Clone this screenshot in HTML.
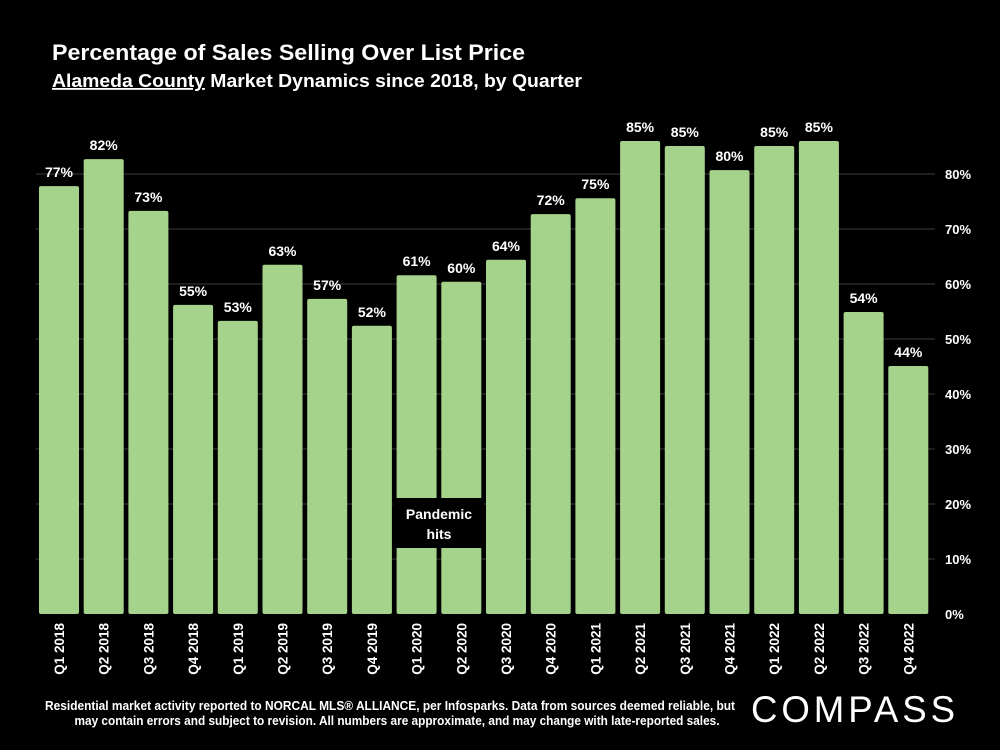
<!DOCTYPE html>
<html><head><meta charset="utf-8"><style>
html,body{margin:0;padding:0;background:#000;}
svg{display:block;font-family:"Liberation Sans",sans-serif;}
</style></head><body>
<svg id="chart" width="1000" height="750" viewBox="0 0 1000 750">
<rect x="0" y="0" width="1000" height="750" fill="#000"/>
<text x="52" y="60" fill="#fff" font-size="22" font-weight="bold" textLength="473" lengthAdjust="spacingAndGlyphs">Percentage of Sales Selling Over List Price</text>
<text x="52" y="87" fill="#fff" font-size="18" font-weight="bold" textLength="530" lengthAdjust="spacingAndGlyphs"><tspan text-decoration="underline">Alameda County</tspan> Market Dynamics since 2018, by Quarter</text>
<g id="grid"></g>
<g id="bars"></g>
<g id="ylabels"></g>
<g id="xlabels"></g>
<rect x="393" y="498" width="91" height="50" fill="#000"/>
<text x="439" y="519" fill="#fff" font-size="14" font-weight="bold" text-anchor="middle"><tspan x="439">Pandemic</tspan><tspan x="439" dy="20">hits</tspan></text>
<text x="390" y="710" fill="#fff" font-size="12.5" font-weight="bold" text-anchor="middle" textLength="690" lengthAdjust="spacingAndGlyphs">Residential market activity reported to NORCAL MLS® ALLIANCE, per Infosparks. Data from sources deemed reliable, but</text>
<text x="397" y="725" fill="#fff" font-size="12.5" font-weight="bold" text-anchor="middle" textLength="645" lengthAdjust="spacingAndGlyphs">may contain errors and subject to revision. All numbers are approximate, and may change with late-reported sales.</text>
<text x="855" y="722" fill="#fff" font-size="37" text-anchor="middle" textLength="208" lengthAdjust="spacingAndGlyphs" letter-spacing="4">COMPASS</text>
</svg>
<script>
const categories=["Q1 2018","Q2 2018","Q3 2018","Q4 2018","Q1 2019","Q2 2019","Q3 2019","Q4 2019","Q1 2020","Q2 2020","Q3 2020","Q4 2020","Q1 2021","Q2 2021","Q3 2021","Q4 2021","Q1 2022","Q2 2022","Q3 2022","Q4 2022"];
const values=[77.8,82.7,73.3,56.2,53.3,63.5,57.3,52.4,61.6,60.4,64.4,72.7,75.6,86,85.1,80.7,85.1,86,54.9,45.1];
const valueLabels=["77%","82%","73%","55%","53%","63%","57%","52%","61%","60%","64%","72%","75%","85%","85%","80%","85%","85%","54%","44%"];
const yTicks=[0,10,20,30,40,50,60,70,80];
const yTickLabels=["0%","10%","20%","30%","40%","50%","60%","70%","80%"];
const NS="http://www.w3.org/2000/svg";
const y0=614, pxPer=5.5, x0=39, pitch=44.7, bw=40;
function yS(v){return y0-v*pxPer;}
function xS(i){return x0+i*pitch;}
function mk(tag,attrs,parent){const e=document.createElementNS(NS,tag);for(const k in attrs)e.setAttribute(k,attrs[k]);parent.appendChild(e);return e;}
const grid=document.getElementById('grid'),bars=document.getElementById('bars'),yl=document.getElementById('ylabels'),xl=document.getElementById('xlabels');
yTicks.forEach((t,i)=>{
  if(t>0){const l=mk('line',{x1:36,x2:935,y1:yS(t),y2:yS(t),stroke:'#3c3c3c','stroke-width':1},grid);
  
  }
  const tx=mk('text',{x:945,y:yS(t)+5,fill:'#fff','font-size':13,'font-weight':'bold'},yl);
  tx.textContent=yTickLabels[i];
  
  
});
categories.forEach((c,i)=>{
  const x=xS(i),v=values[i];
  const r=mk('rect',{x:x,y:yS(v),width:bw,height:y0-yS(v),rx:2,fill:'#a6d38c'},bars);
  
  
  const t=mk('text',{x:x+bw/2,y:yS(v)-9,fill:'#fff','font-size':14,'font-weight':'bold','text-anchor':'middle'},bars);
  t.textContent=valueLabels[i];
  
  
  const cx=x+bw/2+5;
  const xt=mk('text',{x:cx,y:623,fill:'#fff','font-size':13.5,'font-weight':'bold','text-anchor':'end',transform:'rotate(-90 '+cx+' 623)'},xl);
  xt.textContent=c;
  
  
});
</script>
</body></html>
